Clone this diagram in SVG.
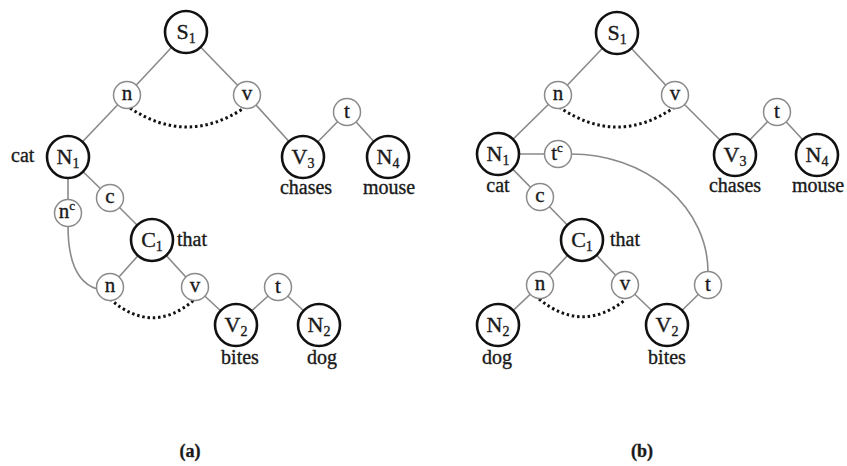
<svg xmlns="http://www.w3.org/2000/svg" width="847" height="466" viewBox="0 0 847 466">
<style>
.edge{stroke:#8a8a8a;stroke-width:1.6;fill:none}
.dot{stroke:#111;stroke-width:3;fill:none;stroke-dasharray:2.5 2.8}
.big{fill:#fff;stroke:#111;stroke-width:2.6}
.small{fill:#fff;stroke:#8a8a8a;stroke-width:1.5}
text{font-family:"Liberation Serif","Times New Roman",serif;fill:#1a1a1a;stroke:#1a1a1a;stroke-width:0.35}
.nl{font-size:22px;text-anchor:middle}
.sl{font-size:21px;text-anchor:middle}
.sub{font-size:14px}
.sup{font-size:13px}
.w{font-size:20px}
.wm{font-size:20px;text-anchor:middle}
.cap{font-size:18px;text-anchor:middle;font-weight:bold}
</style>
<rect width="847" height="466" fill="#fff"/>
<g id="connectors">
<!-- panel a -->
<line class="edge" x1="186" y1="32" x2="127" y2="95"/>
<line class="edge" x1="186" y1="32" x2="247" y2="95"/>
<line class="edge" x1="127" y1="95" x2="68" y2="157"/>
<line class="edge" x1="247" y1="95" x2="303" y2="157"/>
<line class="edge" x1="347" y1="112" x2="303" y2="157"/>
<line class="edge" x1="347" y1="112" x2="388" y2="157"/>
<line class="edge" x1="68" y1="157" x2="110" y2="198"/>
<line class="edge" x1="68" y1="157" x2="68" y2="213"/>
<line class="edge" x1="110" y1="198" x2="152" y2="240"/>
<line class="edge" x1="152" y1="240" x2="110" y2="287"/>
<line class="edge" x1="152" y1="240" x2="195" y2="287"/>
<line class="edge" x1="195" y1="287" x2="236" y2="325"/>
<line class="edge" x1="278" y1="287" x2="236" y2="325"/>
<line class="edge" x1="278" y1="287" x2="319" y2="325"/>
<path class="edge" d="M68 226 C68 262 78 283 97 289"/>
<path class="dot" d="M130 108 Q187 146 244 108"/>
<path class="dot" d="M110 299 Q152 336 194 300"/>
<!-- panel b -->
<line class="edge" x1="617" y1="33" x2="558" y2="95"/>
<line class="edge" x1="617" y1="33" x2="675" y2="95"/>
<line class="edge" x1="558" y1="95" x2="498" y2="154"/>
<line class="edge" x1="675" y1="95" x2="735" y2="155"/>
<line class="edge" x1="777" y1="112" x2="735" y2="155"/>
<line class="edge" x1="777" y1="112" x2="817" y2="155"/>
<line class="edge" x1="498" y1="154" x2="558" y2="154"/>
<line class="edge" x1="498" y1="154" x2="540" y2="197"/>
<line class="edge" x1="540" y1="197" x2="582" y2="240"/>
<line class="edge" x1="582" y1="240" x2="540" y2="285"/>
<line class="edge" x1="582" y1="240" x2="625" y2="285"/>
<line class="edge" x1="540" y1="285" x2="498" y2="325"/>
<line class="edge" x1="625" y1="285" x2="667" y2="325"/>
<line class="edge" x1="708" y1="285" x2="667" y2="325"/>
<path class="edge" d="M571 154 A137 118 0 0 1 708 272"/>
<path class="dot" d="M559 107 Q617 147 675 107"/>
<path class="dot" d="M539 299 Q582 334 625 300"/>
</g>
<!-- panel a nodes -->
<g id="a_S1"><circle class="big" cx="186" cy="32" r="21"/><text class="nl" x="186" y="39">S<tspan class="sub" dy="4">1</tspan></text></g>
<g id="a_n"><circle class="small" cx="127" cy="95" r="13.5"/><text class="sl" x="127" y="100">n</text></g>
<g id="a_v"><circle class="small" cx="247" cy="95" r="13.5"/><text class="sl" x="247" y="100">v</text></g>
<g id="a_t"><circle class="small" cx="347" cy="112" r="13.5"/><text class="sl" x="347" y="118">t</text></g>
<g id="a_N1"><circle class="big" cx="68" cy="157" r="21"/><text class="nl" x="68" y="164">N<tspan class="sub" dy="4">1</tspan></text><text class="w" x="11" y="162">cat</text></g>
<g id="a_V3"><circle class="big" cx="303" cy="157" r="21"/><text class="nl" x="303" y="164">V<tspan class="sub" dy="4">3</tspan></text><text class="wm" x="306" y="194">chases</text></g>
<g id="a_N4"><circle class="big" cx="388" cy="157" r="21"/><text class="nl" x="388" y="164">N<tspan class="sub" dy="4">4</tspan></text><text class="wm" x="389" y="194">mouse</text></g>
<g id="a_c"><circle class="small" cx="110" cy="198" r="13.5"/><text class="sl" x="110" y="203">c</text></g>
<g id="a_nc"><circle class="small" cx="68" cy="213" r="13.5"/><text class="sl" x="67" y="218">n<tspan class="sup" dy="-8">c</tspan></text></g>
<g id="a_C1"><circle class="big" cx="152" cy="240" r="21"/><text class="nl" x="152" y="247">C<tspan class="sub" dy="4">1</tspan></text><text class="w" x="177" y="246">that</text></g>
<g id="a_n2"><circle class="small" cx="110" cy="287" r="13.5"/><text class="sl" x="110" y="292">n</text></g>
<g id="a_v2"><circle class="small" cx="195" cy="287" r="13.5"/><text class="sl" x="195" y="292">v</text></g>
<g id="a_t2"><circle class="small" cx="278" cy="287" r="13.5"/><text class="sl" x="278" y="293">t</text></g>
<g id="a_V2"><circle class="big" cx="236" cy="325" r="21"/><text class="nl" x="236" y="332">V<tspan class="sub" dy="4">2</tspan></text><text class="wm" x="240" y="364">bites</text></g>
<g id="a_N2"><circle class="big" cx="319" cy="325" r="21"/><text class="nl" x="319" y="332">N<tspan class="sub" dy="4">2</tspan></text><text class="wm" x="322" y="364">dog</text></g>
<!-- panel b nodes -->
<g id="b_S1"><circle class="big" cx="617" cy="33" r="21"/><text class="nl" x="617" y="40">S<tspan class="sub" dy="4">1</tspan></text></g>
<g id="b_n"><circle class="small" cx="558" cy="95" r="13.5"/><text class="sl" x="558" y="100">n</text></g>
<g id="b_v"><circle class="small" cx="675" cy="95" r="13.5"/><text class="sl" x="675" y="100">v</text></g>
<g id="b_t"><circle class="small" cx="777" cy="112" r="13.5"/><text class="sl" x="777" y="118">t</text></g>
<g id="b_N1"><circle class="big" cx="498" cy="154" r="21"/><text class="nl" x="498" y="161">N<tspan class="sub" dy="4">1</tspan></text><text class="wm" x="498" y="192">cat</text></g>
<g id="b_tc"><circle class="small" cx="558" cy="154" r="13.5"/><text class="sl" x="557" y="160">t<tspan class="sup" dy="-8">c</tspan></text></g>
<g id="b_V3"><circle class="big" cx="735" cy="155" r="21"/><text class="nl" x="735" y="162">V<tspan class="sub" dy="4">3</tspan></text><text class="wm" x="735" y="192">chases</text></g>
<g id="b_N4"><circle class="big" cx="817" cy="155" r="21"/><text class="nl" x="817" y="162">N<tspan class="sub" dy="4">4</tspan></text><text class="wm" x="818" y="192">mouse</text></g>
<g id="b_c"><circle class="small" cx="540" cy="197" r="13.5"/><text class="sl" x="540" y="202">c</text></g>
<g id="b_C1"><circle class="big" cx="582" cy="240" r="21"/><text class="nl" x="582" y="247">C<tspan class="sub" dy="4">1</tspan></text><text class="w" x="610" y="246">that</text></g>
<g id="b_n2"><circle class="small" cx="540" cy="285" r="13.5"/><text class="sl" x="540" y="290">n</text></g>
<g id="b_v2"><circle class="small" cx="625" cy="285" r="13.5"/><text class="sl" x="625" y="290">v</text></g>
<g id="b_t2"><circle class="small" cx="708" cy="285" r="13.5"/><text class="sl" x="708" y="291">t</text></g>
<g id="b_N2"><circle class="big" cx="498" cy="325" r="21"/><text class="nl" x="498" y="332">N<tspan class="sub" dy="4">2</tspan></text><text class="wm" x="497" y="364">dog</text></g>
<g id="b_V2"><circle class="big" cx="667" cy="325" r="21"/><text class="nl" x="667" y="332">V<tspan class="sub" dy="4">2</tspan></text><text class="wm" x="667" y="364">bites</text></g>
<text class="cap" x="190" y="457">(a)</text>
<text class="cap" x="642" y="457">(b)</text>
</svg>
